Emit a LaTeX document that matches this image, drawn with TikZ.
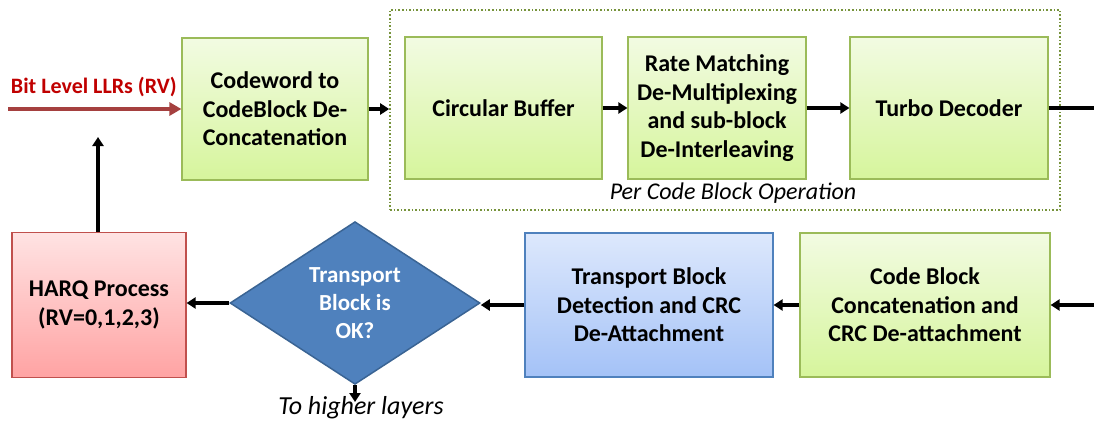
\documentclass[tikz,border=0pt]{standalone}
\usepackage{fontspec}
\setmainfont{Carlito}
\usetikzlibrary{shapes.geometric,arrows.meta}
\definecolor{grnedge}{HTML}{9BBB59}
\definecolor{grntop}{HTML}{F2FBE2}
\definecolor{grnbot}{HTML}{D6F59C}
\definecolor{redge}{HTML}{C0504D}
\definecolor{rtop}{HTML}{FFE3E3}
\definecolor{rbot}{HTML}{FFA3A3}
\definecolor{bedge}{HTML}{4F81BD}
\definecolor{btop}{HTML}{DDE8FC}
\definecolor{bbot}{HTML}{A4C2F7}
\definecolor{dfill}{HTML}{4F81BD}
\definecolor{dedge}{HTML}{3A6494}
\definecolor{llrred}{HTML}{A5403F}
\definecolor{llrtext}{HTML}{C00000}
\definecolor{dotedge}{HTML}{77933C}
\tikzset{
  box/.style={draw, line width=1.2pt, align=center, inner sep=2pt,
    font=\fontsize{24}{28.5}\selectfont\bfseries},
  greenbox/.style={box, draw=grnedge, top color=grntop, bottom color=grnbot},
  pinkbox/.style={box, draw=redge, top color=rtop, bottom color=rbot},
  bluebox/.style={box, draw=bedge, top color=btop, bottom color=bbot},
  decision/.style={diamond, draw=dedge, fill=dfill, line width=1.5pt, text=white,
    align=center, inner sep=0pt, minimum width=250pt, minimum height=150pt,
    font=\fontsize{23}{28}\selectfont\bfseries},
  flow/.style={line width=3.2pt, -{Triangle[length=9pt,width=11pt]}},
  plainline/.style={line width=3.2pt}
}
\begin{document}
\begin{tikzpicture}[x=1pt,y=-1pt]
\useasboundingbox (0,0) rectangle (1094,423);
% per code block group
\node[draw=dotedge, dotted, line width=1.6pt, minimum width=670pt, minimum height=200pt, inner sep=0pt] (grp) at (725,110) {};
\node[font=\fontsize{24}{28}\selectfont\itshape] (grplbl) at (733,193) {Per Code Block Operation};
% top row
\node[greenbox, minimum width=186pt, minimum height=142pt] (cw) at (275,109) {Codeword to\\CodeBlock De-\\Concatenation};
\node[greenbox, minimum width=197pt, minimum height=142pt] (cb) at (503.5,108) {Circular Buffer};
\node[greenbox, minimum width=178pt, minimum height=142pt] (rm) at (717,108) {Rate Matching\\De-Multiplexing\\and sub-block\\De-Interleaving};
\node[greenbox, minimum width=198pt, minimum height=142pt] (td) at (949,108) {Turbo Decoder};
% bottom row
\node[pinkbox, minimum width=174pt, minimum height=145pt] (harq) at (99,305) {HARQ Process\\(RV=0,1,2,3)};
\node[decision] (ok) at (355,303) {Transport\\Block is\\OK?};
\node[bluebox, minimum width=248pt, minimum height=144pt] (tb) at (649,305) {Transport Block\\Detection and CRC\\De-Attachment};
\node[greenbox, minimum width=250pt, minimum height=144pt] (cbc) at (925,305) {Code Block\\Concatenation and\\CRC De-attachment};
% free ends
\coordinate (llr) at (8,109);
\coordinate (tdout) at (1094,108);
\coordinate (cbcin) at (1094,305);
\coordinate (harqup) at (98,137);
\coordinate (higher) at (355,402);
% input LLRs
\draw[line width=3.2pt, draw=llrred, -{Triangle[length=12pt,width=13pt]}] (llr) -- (cw.west);
\node[text=llrtext, font=\fontsize{22}{24}\selectfont\bfseries, anchor=south east, inner sep=0pt] (llrlbl) at (177,97) {Bit Level LLRs (RV)};
% top row connectors
\draw[flow] (cw.east) -- (cw.east -| grp.west);
\draw[flow] (cb.east) -- (rm.west);
\draw[flow] (rm.east) -- (td.west);
\draw[plainline] (td.east) -- (tdout);
% bottom row connectors
\draw[flow] (cbcin) -- (cbc.east);
\draw[flow] (cbc.west) -- (tb.east);
\draw[flow] (tb.west) -- (tb.west -| ok.east);
\draw[flow] (ok.west) -- (ok.west -| harq.east);
\draw[flow] (harq.north -| harqup) -- (harqup);
\draw[flow] (ok.south) -- (higher);
\node[font=\fontsize{26}{28}\selectfont\itshape] (hl) at (361,408) {To higher layers};
\end{tikzpicture}
\end{document}
